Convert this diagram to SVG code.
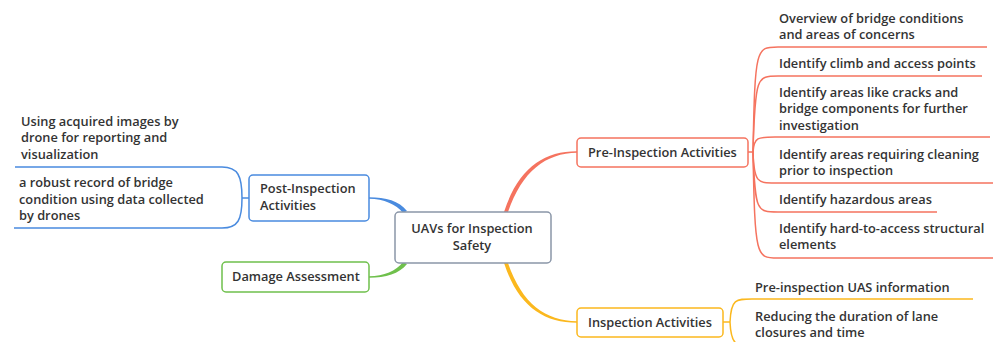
<svg xmlns="http://www.w3.org/2000/svg" width="993" height="342" viewBox="0 0 993 342">
<style>
text{font-family:"Open Sans","Noto Sans","Liberation Sans",sans-serif;font-weight:600;font-size:12.8px;fill:#333333}
.c{text-anchor:middle}
.box{fill:#ffffff;stroke-width:1.5}
.ln{fill:none;stroke-width:1.5}
.r{stroke:#F5735F}.y{stroke:#FBB81E}.b{stroke:#4A8BDF}.g{stroke:#6FC04C}
</style>
<rect width="993" height="342" fill="#ffffff"/>
<g id="connectors">
<path d="M504 212 C518 169 543 151.2 577 151.3 L577 152.7 C546 153 522 171 508 212 Z" fill="#F5735F"/>
<path d="M504 263 C518 306 543 322.8 577 322.8 L577 321.2 C546 321 522 304 508 263 Z" fill="#FBB81E"/>
<path d="M407 211 C399 201 386 197.3 369 197.3 L369 198.7 C384 199 396 204 403 213 Z" fill="#4A8BDF"/>
<path d="M407 264 C399 274 386 277.7 369 277.7 L369 276.3 C384 276 396 271 403 262 Z" fill="#6FC04C"/>
<g class="ln r">
<path d="M748 152 H753"/>
<path d="M753 152 C755 47 756 47 778 47 H987"/>
<path d="M753 152 C755 76 757 76 778 76 H982"/>
<path d="M753 152 C754 137 758 137 775 137 H990"/>
<path d="M753 152 C754 183 758 183 775 183 H993"/>
<path d="M753 152 C755 212 757 212 778 212 H937"/>
<path d="M753 152 C755 258 756 258 778 258 H993"/>
</g>
<g class="ln y">
<path d="M723 322 H730"/>
<path d="M730 322 C731 299 736 299 752 299 H973"/>
<path d="M730 322 C731 345 736 346 752 346"/>
</g>
<g class="ln b">
<path d="M249 198 H242"/>
<path d="M242 198 C242 176 238 167 222 167 H15"/>
<path d="M242 198 C242 220 238 228 222 228 H14"/>
</g>
</g>
<g id="center">
<rect x="395" y="212" width="156" height="51" rx="4" class="box" stroke="#8A96A8"/>
<text class="c" x="472" y="233">UAVs for Inspection</text>
<text class="c" x="472" y="249.5">Safety</text>
</g>
<g id="pre">
<rect x="577" y="138" width="171" height="29" rx="4" class="box r"/>
<text x="588" y="156.5">Pre-Inspection Activities</text>
</g>
<g id="insp">
<rect x="577" y="308" width="146" height="29" rx="4" class="box y"/>
<text x="588" y="326.5">Inspection Activities</text>
</g>
<g id="post">
<rect x="249" y="175" width="120" height="46" rx="4" class="box b"/>
<text x="260" y="193">Post-Inspection</text>
<text x="260" y="209.5">Activities</text>
</g>
<g id="damage">
<rect x="222" y="262" width="147" height="30" rx="4" class="box g"/>
<text x="232" y="280.5">Damage Assessment</text>
</g>
<g id="leaf-pre-1"><text x="779" y="22.5">Overview of bridge conditions</text><text x="779" y="39">and areas of concerns</text></g>
<g id="leaf-pre-2"><text x="779" y="67.5">Identify climb and access points</text></g>
<g id="leaf-pre-3"><text x="779" y="96.5">Identify areas like cracks and</text><text x="779" y="113">bridge components for further</text><text x="779" y="129.5">investigation</text></g>
<g id="leaf-pre-4"><text x="779" y="158.5">Identify areas requiring cleaning</text><text x="779" y="175">prior to inspection</text></g>
<g id="leaf-pre-5"><text x="779" y="203.5">Identify hazardous areas</text></g>
<g id="leaf-pre-6"><text x="779" y="232.5">Identify hard-to-access structural</text><text x="779" y="249">elements</text></g>
<g id="leaf-insp-1"><text x="755" y="291.5">Pre-inspection UAS information</text></g>
<g id="leaf-insp-2"><text x="755" y="320.5">Reducing the duration of lane</text><text x="755" y="337">closures and time</text></g>
<g id="leaf-post-1"><text x="21" y="125.5">Using acquired images by</text><text x="21" y="142">drone for reporting and</text><text x="21" y="158.5">visualization</text></g>
<g id="leaf-post-2"><text x="19" y="187">a robust record of bridge</text><text x="19" y="203.5">condition using data collected</text><text x="19" y="220">by drones</text></g>
</svg>
